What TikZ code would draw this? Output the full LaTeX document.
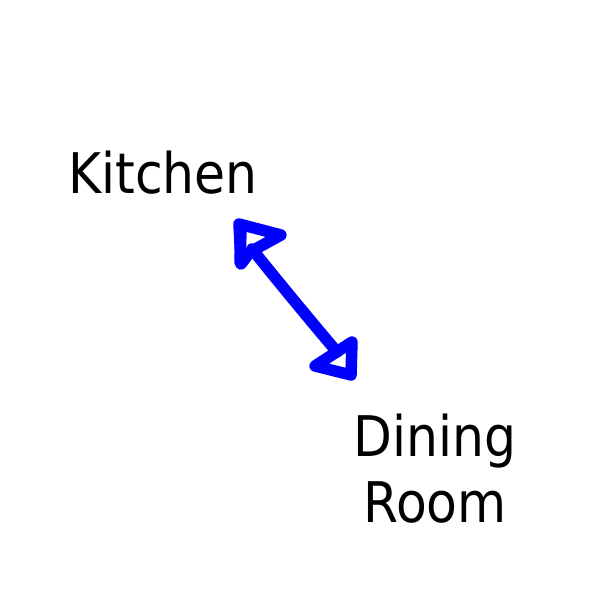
\documentclass[tikz,border=0pt]{standalone}
\usepackage{fontspec}
\setmainfont{DejaVu Sans}[FakeStretch=0.9]
\definecolor{arrowblue}{RGB}{0,0,255}
\tikzset{
  label/.style={font=\fontsize{56}{66}\selectfont, inner sep=0pt, align=center, text=black},
  pen/.style={draw=arrowblue, line width=11.5pt, line cap=round, line join=round}
}
\begin{document}
\begin{tikzpicture}[x=1pt,y=-1pt]
\fill[white] (0,0) rectangle (600,600);
\useasboundingbox (0,0) rectangle (600,600);
\node[label, anchor=base] (kitchen) at (163,193) {Kitchen};
\node[label, anchor=center] (dining) at (435,469) {Dining\\Room};
\coordinate (a) at (252,249);
\coordinate (b) at (337,352);
% shaft
\draw[pen] (a) .. controls (285,290) and (310,320) .. (b);
% top head
\draw[pen] (239,224) -- (281,235) -- (250,252) -- (241,264) -- cycle;
\draw[pen] (241,230) -- (240,262);
% bottom head
\draw[pen] (352,342) -- (351,375) -- (315,366) -- cycle;
\end{tikzpicture}
\end{document}
